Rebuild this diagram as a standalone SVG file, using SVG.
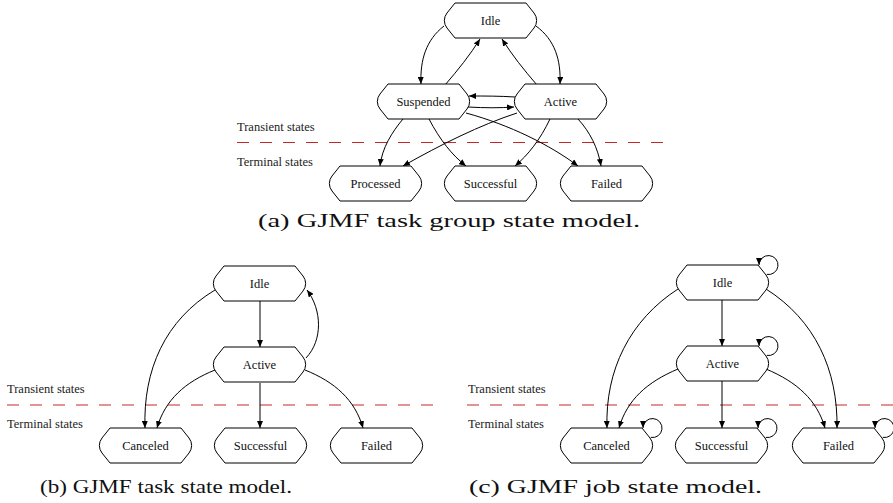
<svg xmlns="http://www.w3.org/2000/svg" xmlns:xlink="http://www.w3.org/1999/xlink" width="893" height="503" viewBox="0 0 893 503">
<style>
.n{fill:#fff;stroke:#000;stroke-width:1}
.t{font-family:"Liberation Serif","Times New Roman",serif;font-size:12.5px;fill:#111;text-anchor:middle}
.s{font-family:"Liberation Serif","Times New Roman",serif;font-size:12.5px;fill:#222}
.e{fill:none;stroke:#000;stroke-width:1;marker-end:url(#ah)}
.d{stroke:#c62828;stroke-width:1.2;stroke-dasharray:12 11;fill:none}
.c{font-family:"Liberation Serif","Times New Roman",serif;font-size:19px;fill:#111}
</style>
<defs>
<marker id="ah" viewBox="0 0 7 6" refX="7" refY="3" markerWidth="7" markerHeight="6" markerUnits="userSpaceOnUse" orient="auto"><path d="M0,0 L7,3 L0,6 z" fill="#000"/></marker>
<path id="oct" d="M11,0 H82 L90,10 A12 12 0 0 1 90,25 L82,35 H11 L3,25 A12 12 0 0 1 3,10 Z"/>
</defs>
<rect width="893" height="503" fill="#fff"/>

<!-- separators and side labels -->
<g id="separators">
<line class="d" x1="237" y1="142.5" x2="665" y2="142.5"/>
<line class="d" x1="7" y1="405" x2="433" y2="405"/>
<line class="d" x1="467" y1="405" x2="893" y2="405"/>
<text class="s" x="237" y="131">Transient states</text>
<text class="s" x="237" y="166">Terminal states</text>
<text class="s" x="7" y="393">Transient states</text>
<text class="s" x="7" y="428">Terminal states</text>
<text class="s" x="468" y="393">Transient states</text>
<text class="s" x="468" y="428">Terminal states</text>
</g>

<!-- connectors -->
<g id="connectors">
<!-- (a) -->
<path class="e" d="M444,26 C426,40 420,60 421,84"/>
<path class="e" d="M445,85 C458,70 470,55 480,39"/>
<path class="e" d="M537,85 C524,70 512,55 502,39"/>
<path class="e" d="M536,26 C555,40 561,60 560,84"/>
<path class="e" d="M515,97 C500,96 485,96 469,96"/>
<path class="e" d="M468,107 C485,108 500,108 514,107"/>
<path class="e" d="M403,119 C392,132 382,148 380,166"/>
<path class="e" d="M429,119 C440,140 452,155 466,166"/>
<path class="e" d="M466,113 C510,125 550,145 578,166"/>
<path class="e" d="M517,113 C480,125 440,145 403,166"/>
<path class="e" d="M550,119 C540,140 528,155 515,166"/>
<path class="e" d="M578,119 C590,132 598,148 601,166"/>
<!-- (b) -->
<path class="e" d="M260,301 V347"/>
<path class="e" d="M215,290 C165,320 143,370 145,428"/>
<path class="e" d="M306,358 C323,340 322,310 307,290"/>
<path class="e" d="M215,370 C185,382 165,400 157,428"/>
<path class="e" d="M260,383 V428"/>
<path class="e" d="M305,370 C335,382 355,400 363,428"/>
<!-- (c) -->
<path class="e" d="M722,300 V346"/>
<path class="e" d="M678,289 C630,320 605,370 607,428"/>
<path class="e" d="M766,289 C815,320 838,370 837,428"/>
<path class="e" d="M678,369 C647,382 627,400 619,428"/>
<path class="e" d="M722,381 V428"/>
<path class="e" d="M766,369 C797,382 817,400 825,428"/>
<path class="e" d="M766.8,274.4 A9.5 9.5 0 1 0 759,265"/>
<path class="e" d="M766.8,355.4 A9.5 9.5 0 1 0 759,346"/>
<path class="e" d="M650.8,437.4 A9.5 9.5 0 1 0 643,428"/>
<path class="e" d="M765.8,437.4 A9.5 9.5 0 1 0 758,428"/>
<path class="e" d="M882.8,437.4 A9.5 9.5 0 1 0 875,428"/>
</g>

<!-- (a) nodes -->
<g id="a-idle"><use xlink:href="#oct" class="n" x="444" y="3"/><text class="t" x="490.5" y="25">Idle</text></g>
<g id="a-suspended"><use xlink:href="#oct" class="n" x="377" y="84"/><text class="t" x="423.5" y="106">Suspended</text></g>
<g id="a-active"><use xlink:href="#oct" class="n" x="514" y="84"/><text class="t" x="560.5" y="106">Active</text></g>
<g id="a-processed"><use xlink:href="#oct" class="n" x="329" y="166"/><text class="t" x="375.5" y="188">Processed</text></g>
<g id="a-successful"><use xlink:href="#oct" class="n" x="444" y="166"/><text class="t" x="490.5" y="188">Successful</text></g>
<g id="a-failed"><use xlink:href="#oct" class="n" x="560" y="166"/><text class="t" x="606.5" y="188">Failed</text></g>

<!-- (b) nodes -->
<g id="b-idle"><use xlink:href="#oct" class="n" x="213" y="266"/><text class="t" x="259.5" y="288">Idle</text></g>
<g id="b-active"><use xlink:href="#oct" class="n" x="213" y="347"/><text class="t" x="259.5" y="369">Active</text></g>
<g id="b-canceled"><use xlink:href="#oct" class="n" x="99" y="428"/><text class="t" x="145.5" y="450">Canceled</text></g>
<g id="b-successful"><use xlink:href="#oct" class="n" x="214" y="428"/><text class="t" x="260.5" y="450">Successful</text></g>
<g id="b-failed"><use xlink:href="#oct" class="n" x="330" y="428"/><text class="t" x="376.5" y="450">Failed</text></g>

<!-- (c) nodes -->
<g id="c-idle"><use xlink:href="#oct" class="n" x="676" y="265"/><text class="t" x="722.5" y="287">Idle</text></g>
<g id="c-active"><use xlink:href="#oct" class="n" x="676" y="346"/><text class="t" x="722.5" y="368">Active</text></g>
<g id="c-canceled"><use xlink:href="#oct" class="n" x="560" y="428"/><text class="t" x="606.5" y="450">Canceled</text></g>
<g id="c-successful"><use xlink:href="#oct" class="n" x="675" y="428"/><text class="t" x="721.5" y="450">Successful</text></g>
<g id="c-failed"><use xlink:href="#oct" class="n" x="792" y="428"/><text class="t" x="838.5" y="450">Failed</text></g>

<!-- captions -->
<g id="captions">
<text class="c" x="258" y="227" textLength="382" lengthAdjust="spacingAndGlyphs">(a) GJMF task group state model.</text>
<text class="c" x="40" y="493" textLength="252" lengthAdjust="spacingAndGlyphs">(b) GJMF task state model.</text>
<text class="c" x="469" y="493" textLength="293" lengthAdjust="spacingAndGlyphs">(c) GJMF job state model.</text>
</g>
</svg>
